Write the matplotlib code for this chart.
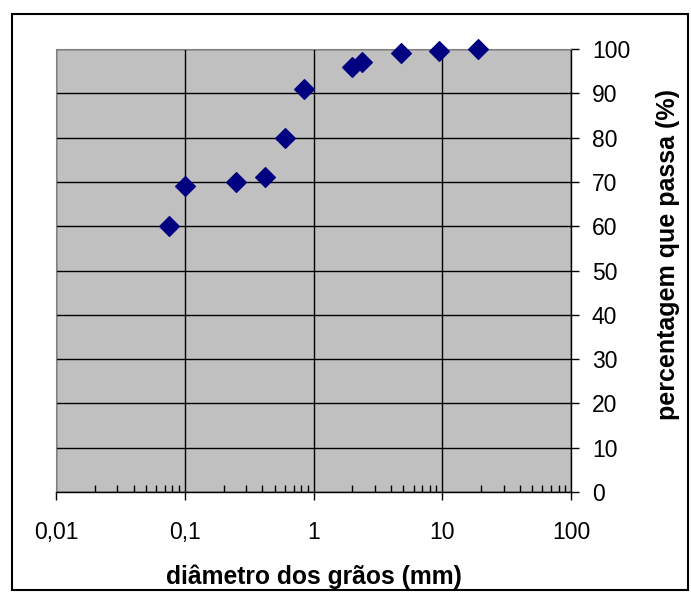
import matplotlib
matplotlib.use('Agg')
import matplotlib.pyplot as plt
from matplotlib.ticker import LogLocator, FixedLocator, NullFormatter, FuncFormatter
from matplotlib.patches import Rectangle

plt.rcParams['font.family'] = ['Liberation Sans', 'DejaVu Sans']

# grain size distribution
diametro = [0.075, 0.1, 0.25, 0.42, 0.6, 0.85, 2.0, 2.4, 4.8, 9.5, 19.0]
passa = [60, 69, 70, 71, 80, 91, 96, 97, 99.2, 99.5, 100]

xticks = [0.01, 0.1, 1, 10, 100]
xlabels = ['0,01', '0,1', '1', '10', '100']
yticks = list(range(0, 101, 10))

fig = plt.figure(figsize=(6.91, 6.03), dpi=100)
ax = fig.add_axes([56 / 691, 1 - 492 / 603, 515 / 691, 443 / 603])
ax.set_facecolor('#C0C0C0')

ax.scatter(diametro, passa, marker='D', s=100, color='#000080', zorder=3, clip_on=False)

ax.set_xscale('log')
ax.set_xlim(0.01, 100)
ax.set_ylim(0, 100)

ax.xaxis.set_major_locator(FixedLocator(xticks))
ax.xaxis.set_major_formatter(FuncFormatter(lambda v, p: xlabels[xticks.index(v)] if v in xticks else ''))
ax.xaxis.set_minor_locator(LogLocator(base=10, subs=range(2, 10), numticks=20))
ax.xaxis.set_minor_formatter(NullFormatter())
ax.set_yticks(yticks)

ax.yaxis.tick_right()
ax.yaxis.set_label_position('right')

ax.tick_params(axis='x', which='major', direction='out', length=6, width=1, pad=15, labelsize=16.5)
ax.tick_params(axis='x', which='minor', direction='in', length=5, width=1)
ax.tick_params(axis='y', which='major', direction='out', length=6, width=1, pad=9, labelsize=16.5)

ax.grid(True, which='major', color='black', linewidth=1)
ax.set_axisbelow(True)

for side in ['top', 'left']:
    ax.spines[side].set_color('#808080')
for side in ['bottom', 'right']:
    ax.spines[side].set_color('black')
    ax.spines[side].set_linewidth(1)

ax.set_xlabel('diâmetro dos grãos (mm)', fontsize=17.7, fontweight='bold')
ax.set_ylabel('percentagem que passa (%)', fontsize=18, fontweight='bold')
ax.xaxis.set_label_coords(0.5, -0.163)
ax.yaxis.set_label_coords(1.166, 0.537)

# outer frame of the chart
fig.patches.append(Rectangle((12 / 691, 1 - 590 / 603), 676 / 691, 576 / 603,
                             transform=fig.transFigure, fill=False,
                             edgecolor='black', linewidth=1.5))

fig.savefig('out.png', dpi=100)
